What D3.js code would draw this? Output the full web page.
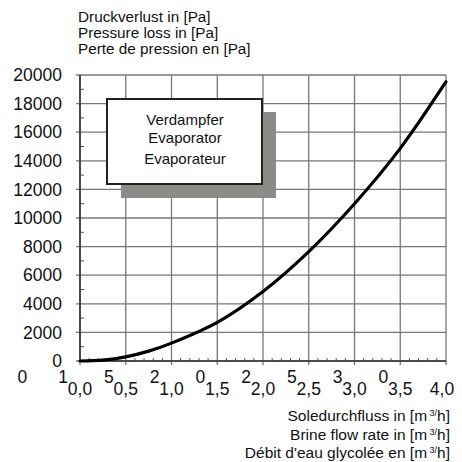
<!DOCTYPE html>
<html>
<head>
<meta charset="utf-8">
<script src="https://cdn.jsdelivr.net/npm/d3@7/dist/d3.min.js"></script>
<style>
  html, body { margin: 0; padding: 0; background: #fff; }
  svg { display: block; font-family: "Liberation Sans", Arial, sans-serif; }
</style>
</head>
<body>
<svg id="chart" width="462" height="462"></svg>
<script>
// ---- data ----
const flowRate     = [0, 0.25, 0.5, 0.75, 1.0, 1.5, 2.0, 2.5, 3.0, 3.5, 4.0];
const pressureLoss = [0, 60, 290, 690, 1250, 2700, 4860, 7650, 11000, 14870, 19530];
const xTickValues  = [0, 0.5, 1.0, 1.5, 2.0, 2.5, 3.0, 3.5, 4.0];
const xTickLabels  = ["0,0", "0,5", "1,0", "1,5", "2,0", "2,5", "3,0", "3,5", "4,0"];
const yTickValues  = [0, 2000, 4000, 6000, 8000, 10000, 12000, 14000, 16000, 18000, 20000];
const strayTickValues = [-0.5, 0, 0.5, 1.0, 1.5, 2.0, 2.5, 3.0, 3.5];
const strayTickLabels = ["0", "1", "5", "2", "0", "2", "5", "3", "0"];
const yTitleLines  = ["Druckverlust in [Pa]", "Pressure loss in [Pa]", "Perte de pression en [Pa]"];
const xTitleLines  = [["Soledurchfluss in [m", "h]"], ["Brine flow rate in [m", "h]"], ["Débit d'eau glycolée en [m", "h]"]];
const boxLines     = ["Verdampfer", "Evaporator", "Evaporateur"];

const svg = d3.select("#chart");
const x = d3.scaleLinear().domain([0, 4]).range([80, 446]);
const y = d3.scaleLinear().domain([0, 20000]).range([361, 75]);

// grid
const grid = svg.append("g");
grid.selectAll("line.v").data(xTickValues).join("line")
  .attr("x1", d => x(d)).attr("x2", d => x(d))
  .attr("y1", y(20000)).attr("y2", y(0) + 4)
  .attr("stroke", "#777").attr("stroke-width", 1.3);
grid.selectAll("line.h").data(yTickValues).join("line")
  .attr("x1", x(0) - 4).attr("x2", x(4))
  .attr("y1", d => y(d)).attr("y2", d => y(d))
  .attr("stroke", "#777").attr("stroke-width", 1.3);

// minor ticks
const minorX = d3.range(1, 40).map(i => i / 10).filter(v => Math.abs(v * 2 - Math.round(v * 2)) > 1e-6);
svg.append("g").selectAll("line").data(minorX).join("line")
  .attr("x1", d => x(d)).attr("x2", d => x(d))
  .attr("y1", y(0)).attr("y2", y(0) - 3)
  .attr("stroke", "#555").attr("stroke-width", 1);
const minorY = d3.range(1000, 20000, 2000);
svg.append("g").selectAll("line").data(minorY).join("line")
  .attr("x1", x(0)).attr("x2", x(0) + 4)
  .attr("y1", d => y(d)).attr("y2", d => y(d))
  .attr("stroke", "#555").attr("stroke-width", 1);

// axes lines
svg.append("line").attr("x1", x(0)).attr("x2", x(0)).attr("y1", y(20000)).attr("y2", y(0))
  .attr("stroke", "#333").attr("stroke-width", 1.6);
svg.append("line").attr("x1", x(0)).attr("x2", x(4)).attr("y1", y(0)).attr("y2", y(0))
  .attr("stroke", "#333").attr("stroke-width", 1.6);

// y tick labels
svg.append("g").selectAll("text").data(yTickValues).join("text")
  .attr("x", 62).attr("y", d => y(d)).attr("dy", "0.35em")
  .attr("text-anchor", "end").attr("font-size", 17.5).attr("fill", "#111")
  .text(d => d);

// stray labels
svg.append("g").selectAll("text").data(strayTickValues).join("text")
  .attr("x", (d, i) => x(d) - 17 + (i === 0 ? 5 : 0)).attr("y", 383)
  .attr("text-anchor", "middle").attr("font-size", 17.5).attr("fill", "#111")
  .text((d, i) => strayTickLabels[i]);

// x tick labels
svg.append("g").selectAll("text").data(xTickValues).join("text")
  .attr("x", (d, i) => x(d) - (i === 8 ? 4 : 0)).attr("y", 395)
  .attr("text-anchor", "middle").attr("font-size", 17.5).attr("fill", "#111")
  .text((d, i) => xTickLabels[i]);

// y title
svg.append("g").selectAll("text").data(yTitleLines).join("text")
  .attr("x", 78).attr("y", (d, i) => 22 + i * 16)
  .attr("font-size", 15.3).attr("fill", "#111")
  .text(d => d);

// x title
const xt = svg.append("g").selectAll("text").data(xTitleLines).join("text")
  .attr("x", 450).attr("y", (d, i) => 421 + i * 18.5)
  .attr("text-anchor", "end").attr("font-size", 15.5).attr("fill", "#111");
xt.append("tspan").text(d => d[0]);
xt.append("tspan").attr("font-size", 9).attr("dy", -5).text(" 3/");
xt.append("tspan").attr("dy", 5).text(d => d[1]);

// curve
const pts = flowRate.map((f, i) => [f, pressureLoss[i]]);
svg.append("path").datum(pts)
  .attr("fill", "none").attr("stroke", "#000").attr("stroke-width", 3.2)
  .attr("stroke-linecap", "round")
  .attr("d", d3.line().x(d => x(d[0])).y(d => y(d[1])).curve(d3.curveCatmullRom));

// box with shadow
svg.append("rect").attr("x", 121).attr("y", 112).attr("width", 155).attr("height", 86)
  .attr("fill", "#8b8b87");
svg.append("rect").attr("x", 107).attr("y", 99).attr("width", 155).attr("height", 85)
  .attr("fill", "#fff").attr("stroke", "#222").attr("stroke-width", 2);
svg.append("g").selectAll("text").data(boxLines).join("text")
  .attr("x", 185).attr("y", (d, i) => [125, 143, 164][i])
  .attr("text-anchor", "middle").attr("font-size", 15).attr("fill", "#111")
  .text(d => d);
</script>
</body>
</html>
